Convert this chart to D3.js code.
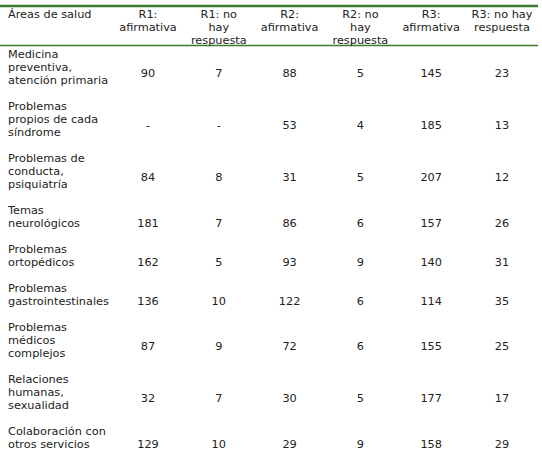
<!DOCTYPE html>
<html>
<head>
<meta charset="utf-8">
<script src="https://cdn.jsdelivr.net/npm/d3@7"></script>
<style>
  body { margin: 0; background: #fff; }
  text { font-family: "DejaVu Sans", Verdana, sans-serif; font-size: 11.3px; fill: #222; }
</style>
</head>
<body>
<svg id="chart" width="542" height="457"></svg>
<script>
const headers = [
  ["Áreas de salud"],
  ["R1:", "afirmativa"],
  ["R1: no", "hay", "respuesta"],
  ["R2:", "afirmativa"],
  ["R2: no", "hay", "respuesta"],
  ["R3:", "afirmativa"],
  ["R3: no hay", "respuesta"]
];
const areas = [
  ["Medicina", "preventiva,", "atención primaria"],
  ["Problemas", "propios de cada", "síndrome"],
  ["Problemas de", "conducta,", "psiquiatría"],
  ["Temas", "neurológicos"],
  ["Problemas", "ortopédicos"],
  ["Problemas", "gastrointestinales"],
  ["Problemas", "médicos", "complejos"],
  ["Relaciones", "humanas,", "sexualidad"],
  ["Colaboración  con", "otros servicios"]
];
const r1Afirmativa = ["90", "-", "84", "181", "162", "136", "87", "32", "129"];
const r1NoRespuesta = ["7", "-", "8", "7", "5", "10", "9", "7", "10"];
const r2Afirmativa = ["88", "53", "31", "86", "93", "122", "72", "30", "29"];
const r2NoRespuesta = ["5", "4", "5", "6", "9", "6", "6", "5", "9"];
const r3Afirmativa = ["145", "185", "207", "157", "140", "114", "155", "177", "158"];
const r3NoRespuesta = ["23", "13", "12", "26", "31", "35", "25", "17", "29"];

const columns = [r1Afirmativa, r1NoRespuesta, r2Afirmativa, r2NoRespuesta, r3Afirmativa, r3NoRespuesta];

const svg = d3.select("#chart");
const green = "#3d7a2c";
const lineH = 13;

// column centres for the six value columns
const x = d3.scalePoint().domain(d3.range(6)).range([148, 502]);

// rules
svg.append("line").attr("x1", 0).attr("x2", 538).attr("y1", 6).attr("y2", 6)
  .attr("stroke", green).attr("stroke-width", 2.5);
svg.append("line").attr("x1", 0).attr("x2", 538).attr("y1", 45.5).attr("y2", 45.5)
  .attr("stroke", green).attr("stroke-width", 1.5);

// header
headers.forEach((h, i) => {
  const t = svg.append("text")
    .attr("text-anchor", i === 0 ? "start" : "middle")
    .attr("x", i === 0 ? 8 : x(i - 1));
  h.forEach((s, j) => t.append("tspan")
    .attr("x", i === 0 ? 8 : x(i - 1))
    .attr("y", 18 + j * lineH).text(s));
});

// body rows: each row is lines*13 + 13 tall
let rowTop = 54;
areas.forEach((lines, r) => {
  const t = svg.append("text");
  lines.forEach((s, j) => t.append("tspan")
    .attr("x", 8).attr("y", rowTop + j * lineH + 4).text(s));
  const vy = rowTop + (lines.length - 1) * lineH / 2 + 6;
  columns.forEach((col, c) => {
    svg.append("text").attr("text-anchor", "middle")
      .attr("x", x(c)).attr("y", vy + 4).text(col[r]);
  });
  rowTop += lines.length * lineH + 13;
});
</script>
</body>
</html>
